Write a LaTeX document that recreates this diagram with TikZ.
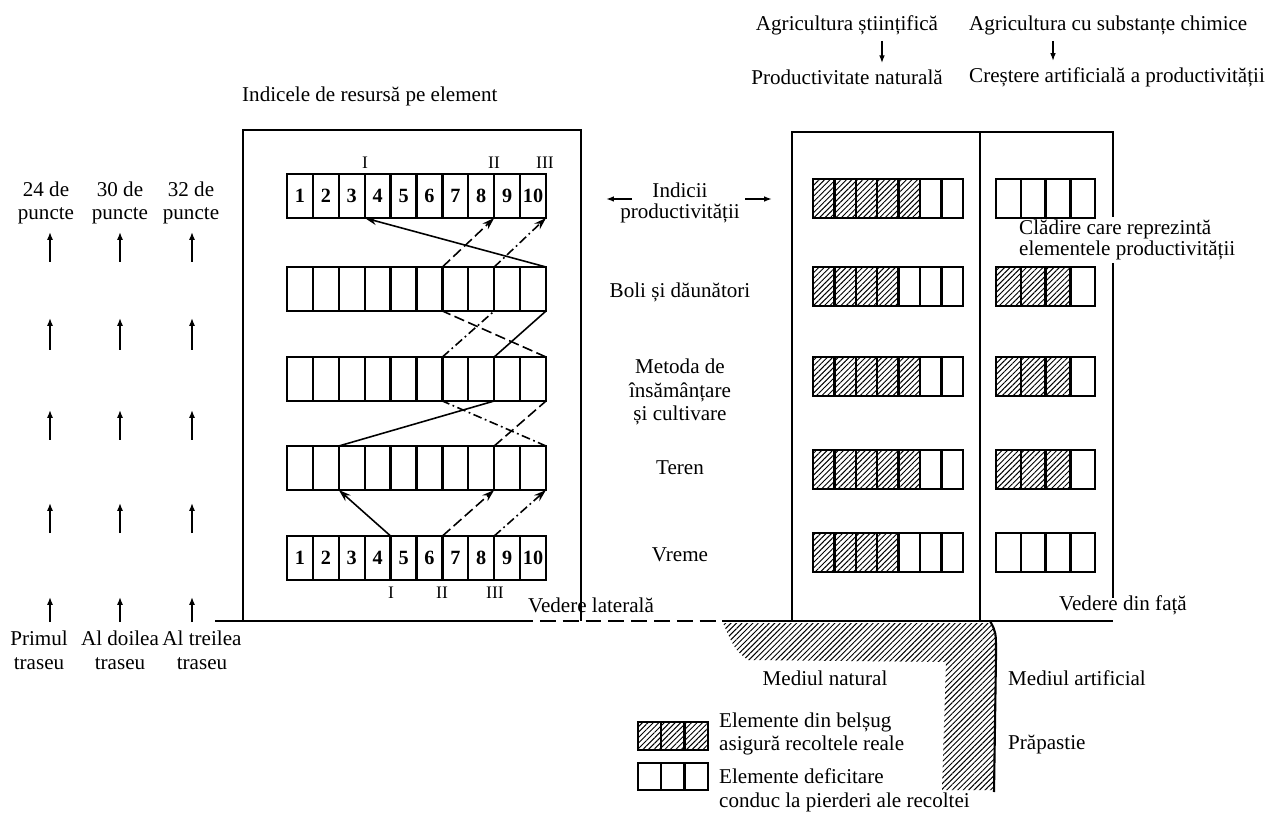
\documentclass[tikz,border=0pt]{standalone}
\usepackage{fontspec}
\setmainfont{Liberation Serif}
\usetikzlibrary{arrows.meta, positioning, patterns.meta}

\begin{document}
\begin{tikzpicture}[x=0.02cm, y=-0.02cm, font=\fontsize{12}{13.5}\selectfont,
    wall/.style={line width=1.5pt},
    strip/.style={line width=1.3pt},
    hatch/.style={pattern={Lines[angle=45, distance=2.2pt, line width=0.55pt]}},
    trailI/.style={line width=0.9pt},
    trailII/.style={line width=0.9pt, dash pattern=on 6pt off 2.5pt},
    trailIII/.style={line width=0.9pt, dash pattern=on 5pt off 2pt on 1pt off 2pt},
    endtip/.style={-{Stealth[length=7pt, width=4.5pt]}},
    smalltip/.style={line width=0.9pt, -{Latex[length=4.5pt, width=3.2pt]}},
    colarrow/.style={line width=1.1pt, -{Latex[length=4.5pt, width=3.5pt]}},
    roman/.style={font=\fontsize{10}{12}\selectfont, inner sep=1pt},
    digit/.style={font=\bfseries\fontsize{11.5}{12}\selectfont, inner sep=0pt}]
    \fill[white] (0,0) rectangle (1266,813);
    \useasboundingbox (0,0) rectangle (1266,813);

    % top: the two kinds of agriculture
    \node (agriSt) at (847,25) {Agricultura științifică};
    \node (prodNat) at (847,77) {Productivitate naturală};
    \node[anchor=west] (agriCh) at (963,25) {Agricultura cu substanțe chimice};
    \node[anchor=west] (crestArt) at (963,77) {Creștere artificială a productivității};
    \coordinate (arrNat) at (882,0);
    \coordinate (arrArt) at (1053,0);
    \draw[smalltip] (agriSt.south -| arrNat) -- (prodNat.north -| arrNat);
    \draw[smalltip] (agriCh.south -| arrArt) -- (crestArt.north -| arrArt);

    % the three trails on the left
    \node[align=center] (pts1) at (46,203) {24 de\\puncte};
    \node[align=center] (pts2) at (120,203) {30 de\\puncte};
    \node[align=center] (pts3) at (191,203) {32 de\\puncte};
    \foreach \x in {50,120,192}
        \foreach \ya/\yb in {262/232, 350/318, 440/410, 533/503, 622/597}
            \draw[colarrow] (\x,\ya) -- (\x,\yb);
    \node[align=center] (trs1) at (39,650) {Primul\\traseu};
    \node[align=center] (trs2) at (120,650) {Al doilea\\traseu};
    \node[align=center] (trs3) at (202,650) {Al treilea\\traseu};

    % side view building
    \node[anchor=west] (resursa) at (236,96) {Indicele de resursă pe element};
    \draw[wall] (243,621) -- (243,130) -- (581,130) -- (581,621);
    \foreach \row/\y in {1/174, 2/267, 3/357, 4/446, 5/536} {
        \draw[strip] (287,\y) rectangle (546,\y+44);
        \foreach \k in {1,...,9}
            \draw[strip] (287+\k*25.9,\y) -- ++(0,44);
        \foreach \k in {0,...,10} {
            \coordinate (L\row t\k) at (287+\k*25.9,\y);
            \coordinate (L\row b\k) at (287+\k*25.9,\y+44);
        }
    }
    \foreach \k in {1,...,10} {
        \node[digit] (top\k) at (274.05+\k*25.9,196) {\k};
        \node[digit] (bot\k) at (274.05+\k*25.9,558) {\k};
    }
    \node[roman] (topI) at (365,163) {I};
    \node[roman] (topII) at (494,163) {II};
    \node[roman] (topIII) at (545,163) {III};
    \node[roman] (botI) at (391,593) {I};
    \node[roman] (botII) at (442,593) {II};
    \node[roman] (botIII) at (495,593) {III};

    % trail I
    \draw[trailI, endtip] (L5t4) -- (L4b2);
    \draw[trailI] (L4t2) -- (L3b8);
    \draw[trailI] (L3t8) -- (L2b10);
    \draw[trailI, endtip] (L2t10) -- (L1b3);
    % trail II
    \draw[trailII, endtip] (L5t6) -- (L4b8);
    \draw[trailII] (L4t8) -- (L3b10);
    \draw[trailII] (L3t10) -- (L2b6);
    \draw[trailII, endtip] (L2t6) -- (L1b8);
    % trail III
    \draw[trailIII, endtip] (L5t8) -- (L4b10);
    \draw[trailIII] (L4t10) -- (L3b6);
    \draw[trailIII] (L3t6) -- (L2b8);
    \draw[trailIII, endtip] (L2t8) -- (L1b10);

    % floor labels
    \node (indicii) at (680,190) {Indicii};
    \node (indProd) at (680,213) {productivității};
    \coordinate (indLa) at (632,199);
    \coordinate (indLb) at (606,199);
    \coordinate (indRa) at (745,199);
    \coordinate (indRb) at (772,199);
    \draw[smalltip] (indLa) -- (indLb);
    \draw[smalltip] (indRa) -- (indRb);
    \node (boli) at (680,292) {Boli și dăunători};
    \node[align=center] (metoda) at (680,392) {Metoda de\\însămânțare\\și cultivare};
    \node (teren) at (680,468) {Teren};
    \node (vreme) at (680,555) {Vreme};
    \node (vedLat) at (591,605) {Vedere laterală};

    % front view building
    \draw[wall] (792,621) -- (792,132) -- (1113,132) -- (1113,217);
    \draw[wall] (1113,263) -- (1113,598);
    \draw[wall] (980,132) -- (980,621);
    \foreach \y/\nl/\nr in {179/5/0, 267/4/3, 357/5/3, 450/5/3, 533/4/0} {
        \fill[hatch] (813,\y) rectangle (813+\nl*21.4,\y+39);
        \fill[hatch] (996,\y) rectangle (996+\nr*24.8,\y+39);
        \draw[strip] (813,\y) rectangle (963,\y+39);
        \foreach \k in {1,...,6}
            \draw[strip] (813+\k*21.4,\y) -- ++(0,39);
        \draw[strip] (996,\y) rectangle (1095,\y+39);
        \foreach \k in {1,...,3}
            \draw[strip] (996+\k*24.8,\y) -- ++(0,39);
    }
    \node[anchor=west, align=left, font=\fontsize{12}{11.5}\selectfont] (cladire) at (1013,240) {Clădire care reprezintă\\elementele productivității};
    \node (vedFata) at (1123,605) {Vedere din față};

    % ground and cliff
    \draw[wall] (215,621) -- (517,621);
    \draw[line width=0.8pt, dash pattern=on 9pt off 4pt] (517,621) -- (722,621);
    \fill[hatch] (723,623) -- (991,623) .. controls (996,640) .. (996,660) -- (994,790) -- (942,790) -- (946,662) -- (748,660) .. controls (735,650) .. (723,623) -- cycle;
    \draw[wall] (722,621) -- (1113,621);
    \draw[line width=1.2pt] (990,621) .. controls (996,632) .. (996,655) -- (994,792);
    \node (medNat) at (825,678) {Mediul natural};
    \node[anchor=west] (medArt) at (1002,678) {Mediul artificial};
    \node[anchor=west] (prapastie) at (1002,745) {Prăpastie};

    % legend
    \fill[hatch] (638,722) rectangle (708,750);
    \draw[strip] (638,722) rectangle (708,750);
    \draw[strip] (638,763) rectangle (708,790);
    \foreach \k in {1,2} {
        \draw[strip] (638+\k*23.3,722) -- ++(0,28);
        \draw[strip] (638+\k*23.3,763) -- ++(0,27);
    }
    \node[anchor=west, align=left] (legAb) at (713,734) {Elemente din belșug\\asigură recoltele reale};
    \node[anchor=west, align=left] (legDef) at (713,790) {Elemente deficitare\\conduc la pierderi ale recoltei};
\end{tikzpicture}
\end{document}
